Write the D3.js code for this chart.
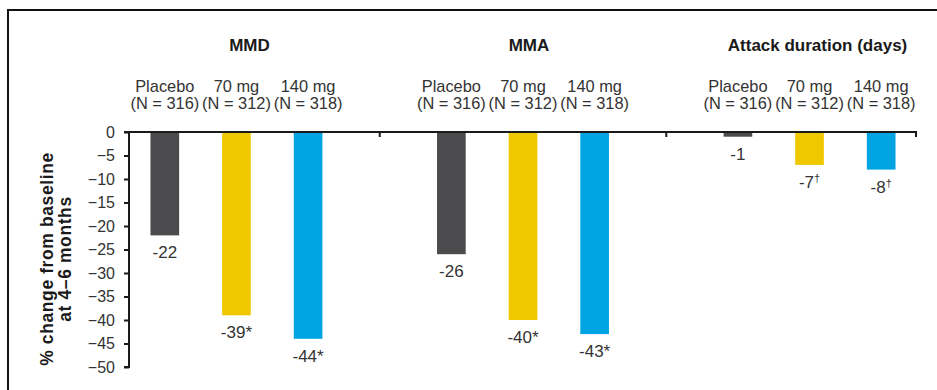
<!DOCTYPE html>
<html>
<head>
<meta charset="utf-8">
<script src="https://cdn.jsdelivr.net/npm/d3@7/dist/d3.min.js"></script>
<style>
  html, body { margin: 0; padding: 0; background: #fff; }
  svg { display: block; font-family: "Liberation Sans", Arial, Helvetica, sans-serif; }
</style>
</head>
<body>
<svg id="chart" width="937" height="390"></svg>
<script>
// Endpoints, treatment arms and results (% change from baseline at months 4–6)
const groups = ["MMD", "MMA", "Attack duration (days)"];
const arms = ["Placebo", "70 mg", "140 mg"];
const armN = [316, 312, 318];
const mmdValues = [-22, -39, -44];
const mmaValues = [-26, -40, -43];
const durationValues = [-1, -7, -8];
const significance = [["", "*", "*"], ["", "*", "*"], ["", "\u2020", "\u2020"]];
const yTicks = [0, -5, -10, -15, -20, -25, -30, -35, -40, -45, -50];
const armColors = ["#4b4b4d", "#f0c800", "#00a4e2"];

const groupValues = [mmdValues, mmaValues, durationValues];

// Flatten into one row per bar, with empty spacer slots between endpoint groups
const rows = [];
const slots = [];
groups.forEach((g, gi) => {
  if (gi > 0) slots.push("gap" + gi);
  arms.forEach((a, ai) => {
    const key = g + "|" + a;
    slots.push(key);
    rows.push({ key, group: g, gi, arm: a, ai, value: groupValues[gi][ai], mark: significance[gi][ai] });
  });
});

const svg = d3.select("#chart");
const plotLeft = 129, plotRight = 917, plotTop = 132, plotBottom = 367;

const x = d3.scaleBand().domain(slots).range([plotLeft, plotRight]).paddingInner(0.6).paddingOuter(0.3);
const y = d3.scaleLinear().domain([-50, 0]).range([plotBottom, plotTop]);
const cx = k => x(k) + x.bandwidth() / 2;

// Outer frame (top and left edges)
svg.append("path")
  .attr("d", "M8,390 V10 H937")
  .attr("fill", "none").attr("stroke", "#111").attr("stroke-width", 2);

// Bars
svg.append("g").selectAll("rect").data(rows).join("rect")
  .attr("x", d => x(d.key))
  .attr("width", x.bandwidth())
  .attr("y", y(0))
  .attr("height", d => y(d.value) - y(0))
  .attr("fill", d => armColors[d.ai]);

// Y axis
const yAxis = d3.axisLeft(y).tickValues(yTicks).tickSize(5).tickPadding(9).tickFormat(d3.format("d"));
const yg = svg.append("g").attr("transform", `translate(${plotLeft},0)`).call(yAxis);
yg.select(".domain").attr("stroke", "#1a1a1a").attr("stroke-width", 2).attr("d", `M-5,${plotTop}H0V${plotBottom}H-5`);
yg.selectAll(".tick line").attr("stroke", "#1a1a1a").attr("stroke-width", 2);
yg.selectAll(".tick text").attr("font-size", 16).attr("fill", "#333").attr("font-family", "Liberation Sans, Arial, sans-serif");

// Zero baseline with small ticks at the group boundaries
svg.append("line")
  .attr("x1", plotLeft).attr("x2", plotRight).attr("y1", y(0)).attr("y2", y(0))
  .attr("stroke", "#1a1a1a").attr("stroke-width", 2);
const sepX = slots.filter(s => s.startsWith("gap")).map(cx).concat([plotRight - 1]);
svg.append("g").selectAll("line").data(sepX).join("line")
  .attr("x1", d => d).attr("x2", d => d)
  .attr("y1", y(0)).attr("y2", y(0) + 5)
  .attr("stroke", "#1a1a1a").attr("stroke-width", 2);

// Value labels beneath each bar
const vl = svg.append("g").selectAll("text").data(rows).join("text")
  .attr("x", d => cx(d.key))
  .attr("y", d => y(d.value) + 23)
  .attr("text-anchor", "middle")
  .attr("font-size", 17)
  .attr("fill", "#333");
vl.append("tspan").text(d => d.value);
vl.filter(d => d.mark === "*").append("tspan").text("*");
vl.filter(d => d.mark === "\u2020").append("tspan")
  .attr("font-size", 11).attr("dy", -6).text("\u2020");

// Arm labels above the plot
const al = svg.append("g").selectAll("text").data(rows).join("text")
  .attr("text-anchor", "middle")
  .attr("font-size", 16.4)
  .attr("fill", "#333");
al.append("tspan").attr("x", d => cx(d.key)).attr("y", 92).text(d => d.arm);
al.append("tspan").attr("x", d => cx(d.key)).attr("y", 109).text(d => `(N = ${armN[d.ai]})`);

// Endpoint titles
const titleShift = [13, 6, 8];
svg.append("g").selectAll("text").data(groups).join("text")
  .attr("x", (g, i) => cx(g + "|" + arms[1]) + titleShift[i])
  .attr("y", 51)
  .attr("text-anchor", "middle")
  .attr("font-size", 17)
  .attr("font-weight", "bold")
  .attr("fill", "#1a1a1a")
  .text(g => g);

// Y axis title
const yt = svg.append("text")
  .attr("transform", "translate(47,259) rotate(-90)")
  .attr("text-anchor", "middle")
  .attr("font-size", 17.5)
  .attr("letter-spacing", 0.6)
  .attr("font-weight", "bold")
  .attr("fill", "#1a1a1a");
yt.append("tspan").attr("x", 0).attr("y", 6).text("% change from baseline");
yt.append("tspan").attr("x", 0).attr("y", 24).text("at 4\u20136 months");
</script>
</body>
</html>
